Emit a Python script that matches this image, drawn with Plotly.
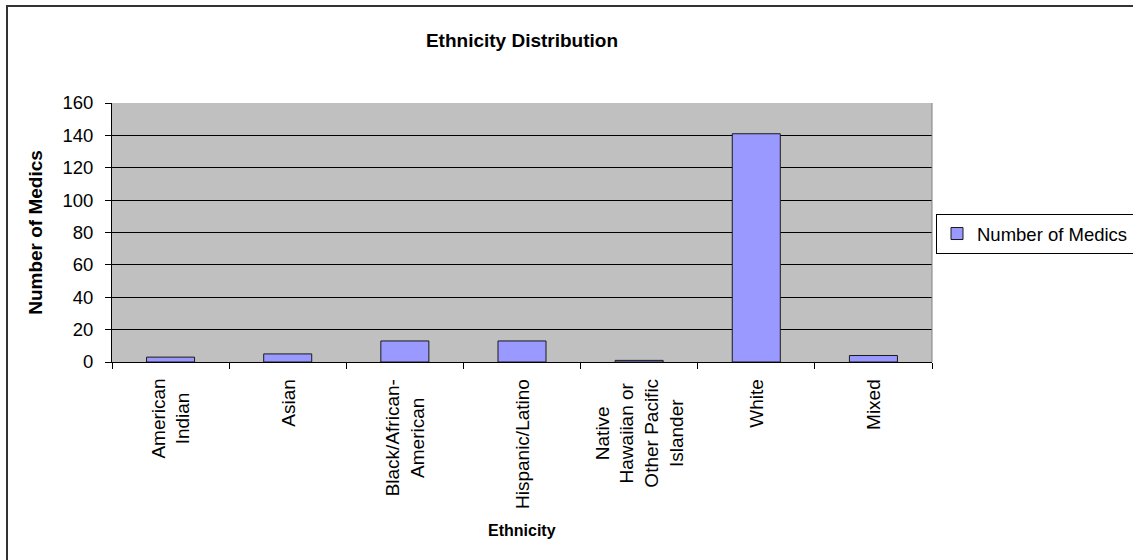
import plotly.graph_objects as go

# Ethnicity breakdown of medics
categories = [
    "American Indian",
    "Asian",
    "Black/African-American",
    "Hispanic/Latino",
    "Native Hawaiian or Other Pacific Islander",
    "White",
    "Mixed",
]
category_labels = [
    "American<br>Indian",
    "Asian",
    "Black/African-<br>American",
    "Hispanic/Latino",
    "Native<br>Hawaiian or<br>Other Pacific<br>Islander",
    "White",
    "Mixed",
]
medic_counts = [3, 5, 13, 13, 1, 141, 4]
y_ticks = [0, 20, 40, 60, 80, 100, 120, 140, 160]

FONT = "Liberation Sans, Arial, sans-serif"
W, H = 1133, 560
L, R, T, B = 112, 201, 103, 198
PW, PH = W - L - R, H - T - B

fig = go.Figure(
    go.Bar(
        x=categories,
        y=medic_counts,
        name="Number of Medics",
        marker=dict(color="#9999FF", line=dict(color="#1a1a1a", width=1)),
        showlegend=True,
    )
)

# rotated category labels, lines centred within each label block
annotations = [
    dict(
        x=cat, xref="x", y=0, yref="paper", yshift=-15,
        text=lab, textangle=-90, showarrow=False,
        xanchor="center", yanchor="top", align="center",
        font=dict(size=19, family=FONT, color="black"),
    )
    for cat, lab in zip(categories, category_labels)
]
annotations.append(
    dict(
        x=0.5, xref="paper", y=-(530 - (T + PH)) / PH, yref="paper",
        text="<b>Ethnicity</b>", showarrow=False,
        xanchor="center", yanchor="middle",
        font=dict(size=16, family=FONT, color="black"),
    )
)

fig.update_layout(
    width=W,
    height=H,
    margin=dict(l=L, r=R, t=T, b=B, autoexpand=False),
    paper_bgcolor="white",
    plot_bgcolor="#C0C0C0",
    font=dict(family=FONT, color="black", size=19),
    bargap=0.59,
    title=dict(
        text="<b>Ethnicity Distribution</b>",
        x=522 / W,
        xanchor="center",
        y=1 - 40 / H,
        yanchor="middle",
        font=dict(size=19, family=FONT),
    ),
    xaxis=dict(
        type="category",
        categoryorder="array",
        categoryarray=categories,
        showticklabels=False,
        ticks="outside",
        tickson="boundaries",
        ticklen=6,
        tickcolor="black",
        showline=True,
        linecolor="black",
        linewidth=1,
        showgrid=False,
    ),
    yaxis=dict(
        range=[0, 160],
        tickvals=y_ticks,
        ticks="outside",
        ticklen=6,
        tickcolor="black",
        ticklabelstandoff=8,
        showline=True,
        linecolor="black",
        linewidth=1,
        showgrid=True,
        gridcolor="black",
        gridwidth=1,
        zeroline=False,
        tickfont=dict(size=18.5),
        title=dict(text="<b>Number of Medics</b>", font=dict(size=19), standoff=14),
    ),
    legend=dict(
        x=(936 - L) / PW,
        y=(T + PH - 234) / PH,
        xanchor="left",
        yanchor="middle",
        bgcolor="white",
        bordercolor="black",
        borderwidth=1,
        font=dict(size=18.5),
        itemwidth=30,
        tracegroupgap=0,
    ),
    annotations=annotations,
    shapes=[
        # right edge of the plotting area
        dict(type="line", xref="paper", yref="paper", x0=1, x1=1, y0=0, y1=1,
             line=dict(color="#808080", width=1)),
        # chart frame
        dict(type="rect", xref="paper", yref="paper",
             x0=(7 - L) / PW, x1=(1145 - L) / PW,
             y0=(T + PH - 575) / PH, y1=(T + PH - 6) / PH,
             line=dict(color="#333333", width=2), fillcolor="rgba(0,0,0,0)",
             layer="below"),
    ],
)

fig.write_html("out.html")
